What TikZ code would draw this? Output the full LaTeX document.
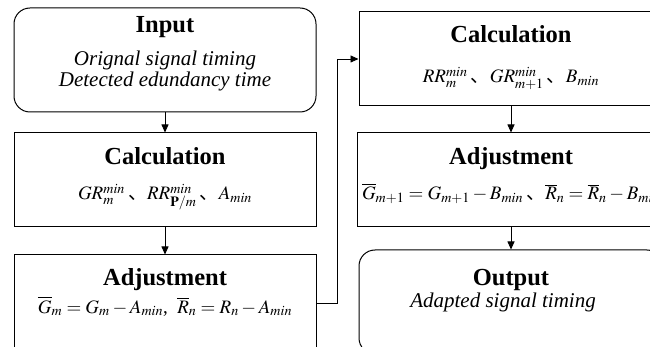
\documentclass[tikz,border=0pt]{standalone}
\usepackage{mathptmx}
\usepackage{fontspec}
\setmainfont{Liberation Serif}
\newfontfamily\cjk{Noto Sans CJK SC}
\usetikzlibrary{arrows.meta}

\newcommand{\ttl}{\fontsize{24.5}{28}\selectfont\bfseries}
\newcommand{\sub}{\fontsize{21}{21}\selectfont\itshape}
\newcommand{\frm}{\fontsize{19}{22}\selectfont}
\newcommand{\dun}{\,\mbox{\cjk 、}}

\begin{document}
\begin{tikzpicture}[x=1pt,y=-1pt,
    box/.style={shape=rectangle,draw=black,line width=1pt,inner sep=0pt},
    rbox/.style={box,rounded corners=16pt},
    txt/.style={anchor=base,inner sep=0pt},
    arr/.style={-{Triangle[length=8pt,width=7pt]},line width=0.8pt}]
  \useasboundingbox (0,0) rectangle (650,347);
  \clip (0,0) rectangle (650,347);

  % left column
  \node[rbox,minimum width=302pt,minimum height=104pt] (in) at (165,60) {};
  \node[txt] (inT) at (165,33) {\ttl Input};
  \node[txt] (inA) at (165,66) {\sub Orignal signal timing};
  \node[txt] (inB) at (165,87) {\sub Detected edundancy time};

  \node[box,minimum width=302pt,minimum height=94pt] (calcA) at (165,180) {};
  \node[txt] (calcAT) at (165,165) {\ttl Calculation};
  \node[txt] (calcAF) at (165,200) {\frm $GR_m^{min}$\dun$RR_{\mathbf{P}/m}^{min}$\dun$A_{min}$};

  \node[box,minimum width=302pt,minimum height=96pt] (adjA) at (165,303) {};
  \node[txt] (adjAT) at (165,285) {\ttl Adjustment};
  \node[txt] (adjAF) at (165,313) {\frm $\overline{G}_m = G_m - A_{min}$,\ \ $\overline{R}_n = R_n - A_{min}$};

  % right column
  \node[box,minimum width=304pt,minimum height=94pt] (calcB) at (511,59) {};
  \node[txt] (calcBT) at (511,43) {\ttl Calculation};
  \node[txt] (calcBF) at (511,83) {\frm $RR_m^{min}$\dun$GR_{m+1}^{min}$\dun$B_{min}$};

  \node[box,minimum width=308pt,minimum height=94pt] (adjB) at (511,180) {};
  \node[txt] (adjBT) at (511,165) {\ttl Adjustment};
  \node[txt] (adjBF) at (511,200) {\frm $\overline{G}_{m+1} = G_{m+1} - B_{min}$\dun$\overline{R}_n = \overline{R}_n - B_{min}$};

  \node[rbox,minimum width=304pt,minimum height=104pt] (out) at (511,302) {};
  \node[txt] (outT) at (511,285) {\ttl Output};
  \node[txt] (outA) at (503,307) {\sub Adapted signal timing};

  % connectors
  \draw[arr] (in) -- (calcA);
  \draw[arr] (calcA) -- (adjA);
  \draw[arr] (adjA.east) -- ++(21,0) |- (calcB.west);
  \draw[arr] (calcB) -- (adjB);
  \draw[arr] (adjB) -- (out);
\end{tikzpicture}
\end{document}
